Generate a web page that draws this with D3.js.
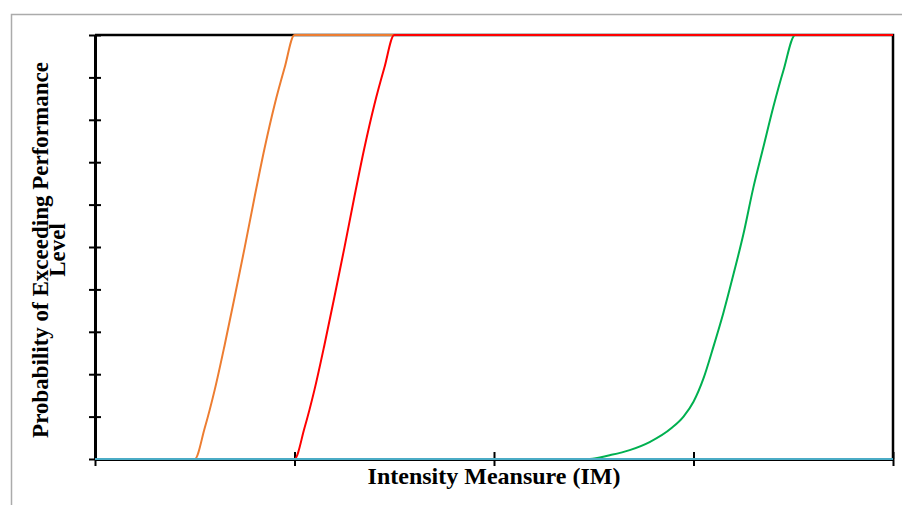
<!DOCTYPE html>
<html>
<head>
<meta charset="utf-8">
<script src="https://cdn.jsdelivr.net/npm/d3@7"></script>
<style>
  body { margin: 0; background: #fff; }
  svg { display: block; }
  .axis-title { font-family: "Liberation Serif", "Times New Roman", serif; font-weight: bold; fill: #000; }
</style>
</head>
<body>
<div id="chart"></div>
<script>
// tick positions (no labels shown on the chart)
const xTicks = [0, 1, 2, 3, 4];
const yTicks = [0, 0.1, 0.2, 0.3, 0.4, 0.5, 0.6, 0.7, 0.8, 0.9, 1];

// series (x = intensity measure, y = probability)
const orangeX = [0, 0.5, 0.55, 0.6, 0.65, 0.7, 0.75, 0.8, 0.85, 0.9, 0.95, 1.0, 4];
const orangeY = [0, 0, 0.073, 0.163, 0.269, 0.382, 0.498, 0.618, 0.733, 0.835, 0.922, 1, 1];

const redX = [0, 1.0, 1.05, 1.1, 1.15, 1.2, 1.25, 1.3, 1.35, 1.4, 1.45, 1.5, 4];
const redY = [0, 0, 0.073, 0.163, 0.269, 0.382, 0.498, 0.618, 0.733, 0.835, 0.922, 1, 1];

const greenX = [0, 2.48, 2.58, 2.68, 2.78, 2.89, 2.95, 3.0, 3.05, 3.1, 3.15, 3.2, 3.25, 3.3, 3.35, 3.4, 3.45, 3.51, 4];
const greenY = [0, 0, 0.009, 0.021, 0.04, 0.073, 0.1, 0.135, 0.19, 0.265, 0.345, 0.435, 0.53, 0.64, 0.735, 0.83, 0.915, 1, 1];

const tealX = [0, 4];
const tealY = [0, 0];

const series = [
  {name: 'green', color: '#00B050', xs: greenX, ys: greenY},
  {name: 'orange', color: '#ED7D31', xs: orangeX, ys: orangeY},
  {name: 'red', color: '#FF0000', xs: redX, ys: redY},
  {name: 'teal', color: '#4BACC6', xs: tealX, ys: tealY}
];

const W = 902, H = 505;
const margin = {top: 35, right: 9, bottom: 46, left: 95};

const svg = d3.select('#chart').append('svg')
  .attr('width', W)
  .attr('height', H);

// outer gray frame
svg.append('path')
  .attr('d', `M11.5,${H} V14.5 H${W}`)
  .attr('fill', 'none')
  .attr('stroke', '#ababab')
  .attr('stroke-width', 1.5);

const x = d3.scaleLinear().domain([0, 4]).range([margin.left, W - margin.right]);
const y = d3.scaleLinear().domain([0, 1]).range([H - margin.bottom, margin.top]);

const g = svg.append('g');

// top and right border of the plot
g.append('path')
  .attr('d', `M${x(0)},${y(1)} H${x(4)} V${y(0)}`)
  .attr('fill', 'none')
  .attr('stroke', '#000')
  .attr('stroke-width', 2.5);

const xAxis = g.append('g')
  .attr('transform', `translate(0,${y(0)})`)
  .call(d3.axisBottom(x).tickValues(xTicks).tickSizeOuter(0).tickSizeInner(7).tickFormat(''));

const yAxis = g.append('g')
  .attr('transform', `translate(${x(0)},0)`)
  .call(d3.axisLeft(y).tickValues(yTicks).tickSizeOuter(0).tickSizeInner(6).tickFormat(''));

[xAxis, yAxis].forEach(a => {
  a.select('.domain').attr('stroke', '#000').attr('stroke-width', 3);
  a.selectAll('.tick line').attr('stroke', '#000').attr('stroke-width', 2);
});
// ticks cross the axis lines
xAxis.selectAll('.tick line').attr('y1', -7);
yAxis.selectAll('.tick line').attr('x1', 6);

const line = d3.line()
  .curve(d3.curveMonotoneX)
  .x(d => x(d[0]))
  .y(d => y(d[1]));

g.selectAll('.series')
  .data(series)
  .enter()
  .append('path')
    .attr('class', 'series')
    .attr('fill', 'none')
    .attr('stroke', d => d.color)
    .attr('stroke-width', 2)
    .attr('d', d => line(d.xs.map((v, i) => [v, d.ys[i]])));

// axis titles
svg.append('text')
  .attr('class', 'axis-title')
  .attr('x', (x(0) + x(4)) / 2)
  .attr('y', 484)
  .attr('text-anchor', 'middle')
  .style('font-size', '24px')
  .text('Intensity Meansure (IM)');

const yTitle = svg.append('text')
  .attr('class', 'axis-title')
  .attr('transform', `translate(48,${(y(0) + y(1)) / 2 + 3}) rotate(-90)`)
  .attr('text-anchor', 'middle')
  .style('font-size', '23px');
yTitle.append('tspan').attr('x', 0).attr('y', 0).text('Probability of Exceeding Performance');
yTitle.append('tspan').attr('x', 0).attr('y', 17).text('Level');
</script>
</body>
</html>
